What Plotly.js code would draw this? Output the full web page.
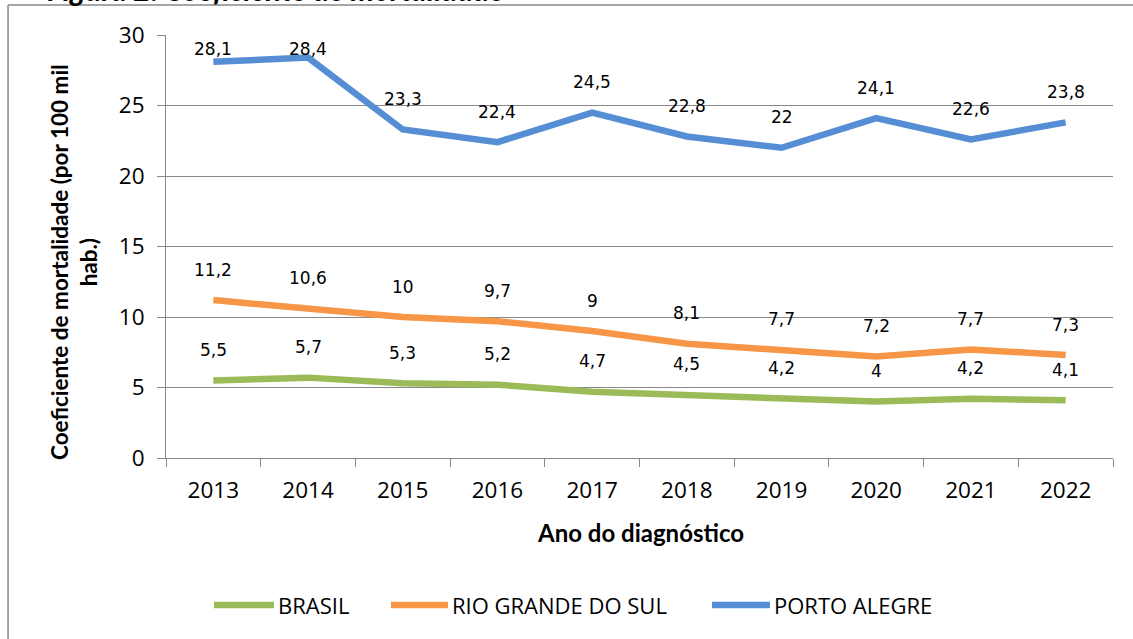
<!DOCTYPE html>
<html><head><meta charset="utf-8">
<script src="https://cdn.plot.ly/plotly-3.0.1.min.js"></script>
<style>html,body{margin:0;padding:0;background:#fff}#c{width:1133px;height:639px}</style>
</head><body><div id="c"></div>
<script>
const years = ['2013','2014','2015','2016','2017','2018','2019','2020','2021','2022'];
const brasil = [5.5,5.7,5.3,5.2,4.7,4.5,4.2,4.0,4.2,4.1];
const rioGrande = [11.2,10.6,10.0,9.7,9.0,8.1,7.7,7.2,7.7,7.3];
const portoAlegre = [28.1,28.4,23.3,22.4,24.5,22.8,22.0,24.1,22.6,23.8];
const seriesNames = ['BRASIL','RIO GRANDE DO SUL','PORTO ALEGRE'];
const colors = ['#9BBB59','#F79646','#558ED5'];

const all = [brasil, rioGrande, portoAlegre];
const traces = all.map((d,i)=>({
  type:'scatter', mode:'lines', x:years, y:d, name:seriesNames[i],
  line:{color:colors[i], width:6.5}, hoverinfo:'skip', showlegend:false
}));

const px = p => (p-166)/947;
const py = p => (458-p)/423;

const fmt = v => String(v).replace('.', ',');
const annotations = [];
all.forEach(d=>{
  d.forEach((v,j)=>{
    annotations.push({x:j, y:Math.min(v+2.15, 29.0), xref:'x', yref:'y',
      text:fmt(v), showarrow:false,
      font:{family:'DejaVu Sans', size:17, color:'#000'}});
  });
});
annotations.push({xref:'paper', yref:'paper', x:px(640), y:py(532), yanchor:'middle',
  text:'<b>Ano do diagnóstico</b>', showarrow:false,
  font:{family:'Lato, Open Sans', size:24, color:'#000'}});
annotations.push({xref:'paper', yref:'paper', x:px(74), y:py(262), xanchor:'center', yanchor:'middle',
  textangle:-90, text:'<b>Coeficiente de mortalidade (por 100 mil<br>hab.)</b>', showarrow:false,
  font:{family:'Lato, Open Sans', size:22.5, color:'#000'}});
annotations.push({xref:'paper', yref:'paper', x:px(45), y:py(9), xanchor:'left', yanchor:'bottom',
  text:'<b><i>Figura 2. Coeficiente de mortalidade</i></b>', showarrow:false,
  font:{family:'Lato, Open Sans', size:30, color:'#000'}});

// legend (built from the series names and colours)
const legLine = [[214,274],[391,448],[712,770]];
const shapes = [
  {type:'line', xref:'paper', yref:'paper', x0:-0.1668, x1:-0.1668, y0:py(5), y1:-0.5, line:{color:'#888', width:1.5}},
  {type:'line', xref:'paper', yref:'paper', x0:-0.1668, x1:1.05, y0:py(5), y1:py(5), line:{color:'#888', width:1.5}}
];
seriesNames.forEach((n,i)=>{
  shapes.push({type:'line', xref:'paper', yref:'paper', x0:px(legLine[i][0]), x1:px(legLine[i][1]),
    y0:py(605), y1:py(605), line:{color:colors[i], width:6.5}});
  annotations.push({xref:'paper', yref:'paper', x:px(legLine[i][1]+2), y:py(605), xanchor:'left', yanchor:'middle',
    text:n, showarrow:false, font:{family:'Open Sans', size:22, color:'#000'}});
});

const layout = {
  width:1133, height:639,
  margin:{l:166, r:20, t:35, b:181},
  paper_bgcolor:'#fff', plot_bgcolor:'#fff',
  showlegend:false,
  xaxis:{type:'category', range:[-0.5,9.5], tickson:'boundaries', ticks:'outside', ticklen:8,
    tickcolor:'#888', showline:true, linecolor:'#888', linewidth:1, showgrid:false,
    tickfont:{family:'Open Sans', size:22.5, color:'#000'}, ticklabelstandoff:12},
  yaxis:{range:[0,30], dtick:5, ticks:'outside', ticklen:8, tickcolor:'#888',
    showline:true, linecolor:'#888', linewidth:1, showgrid:true, gridcolor:'#888', gridwidth:1,
    zeroline:false, tickfont:{family:'Open Sans', size:22.5, color:'#000'}, ticklabelstandoff:8},
  annotations:annotations,
  shapes:shapes
};
Plotly.newPlot('c', traces, layout, {displayModeBar:false, staticPlot:true});
</script></body></html>
